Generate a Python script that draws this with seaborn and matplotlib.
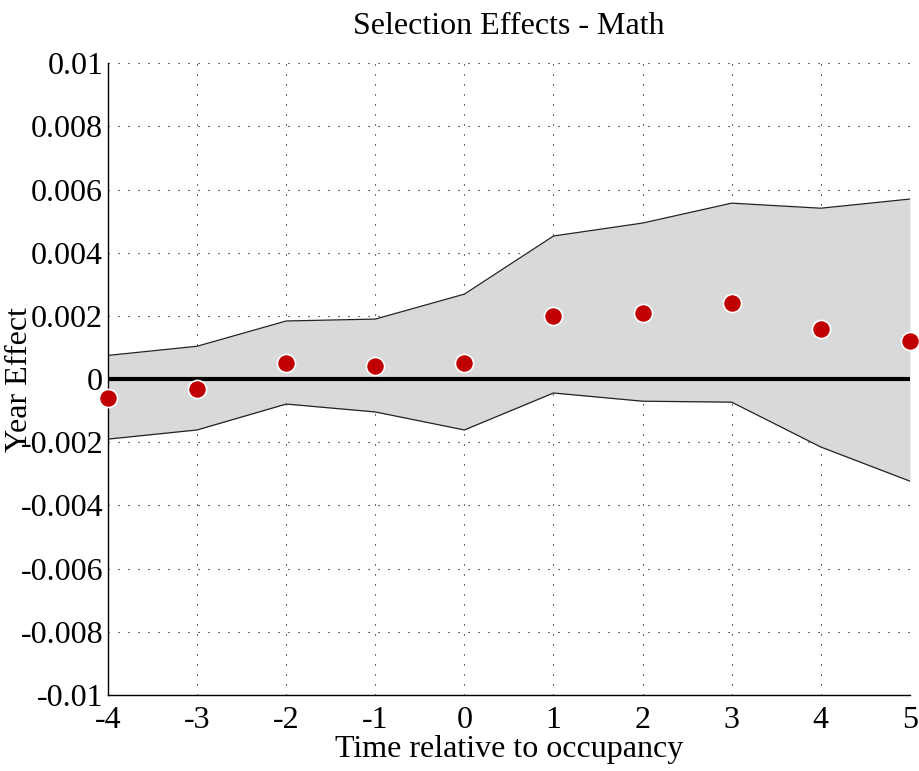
import numpy as np
import pandas as pd
import matplotlib
matplotlib.use("Agg")
import matplotlib.pyplot as plt
from matplotlib.ticker import MultipleLocator
import seaborn as sns

# Values
time_rel = [-4, -3, -2, -1, 0, 1, 2, 3, 4, 5]
year_effect = [-0.0006, -0.0003, 0.0005, 0.0004, 0.0005, 0.0020, 0.0021, 0.0024, 0.0016, 0.0012]
upper_ci = [0.00075, 0.00104, 0.00184, 0.0019, 0.00269, 0.00453, 0.00494, 0.00557, 0.00541, 0.0057]
lower_ci = [-0.0019, -0.00161, -0.00079, -0.00104, -0.00161, -0.00044, -0.0007, -0.00073, -0.00215, -0.00323]
y_ticks = [-0.01, -0.008, -0.006, -0.004, -0.002, 0, 0.002, 0.004, 0.006, 0.008, 0.01]
y_tick_labels = ["-0.01", "-0.008", "-0.006", "-0.004", "-0.002", "0",
                 "0.002", "0.004", "0.006", "0.008", "0.01"]

df = pd.DataFrame({"t": time_rel, "effect": year_effect, "hi": upper_ci, "lo": lower_ci})

sns.set_style("white")
plt.rcParams["font.family"] = ["Liberation Serif", "DejaVu Serif"]
plt.rcParams["text.color"] = "black"
plt.rcParams["axes.labelcolor"] = "black"
plt.rcParams["xtick.color"] = "black"
plt.rcParams["ytick.color"] = "black"
plt.rcParams["xtick.direction"] = "in"
plt.rcParams["ytick.direction"] = "in"

fig = plt.figure(figsize=(9.2, 7.71), dpi=100)
ax = fig.add_axes([0.1174, 0.0986, 0.8716, 0.8194])

# confidence band
ax.fill_between(df["t"], df["lo"], df["hi"], color="#d9d9d9", lw=0, zorder=1)
sns.lineplot(data=df, x="t", y="hi", color="#222222", lw=0.9, ax=ax, zorder=2)
sns.lineplot(data=df, x="t", y="lo", color="#222222", lw=0.9, ax=ax, zorder=2)

# zero line
ax.axhline(0, color="black", lw=3, zorder=3)

# point estimates
sns.scatterplot(data=df, x="t", y="effect", color="#c00000", edgecolor="white",
                linewidth=1.2, s=170, ax=ax, zorder=5, clip_on=False)

ax.set_xlim(-4, 5)
ax.set_ylim(-0.01, 0.01)
ax.set_xticks(time_rel)
ax.set_xticklabels([str(t) for t in time_rel])
ax.set_yticks(y_ticks)
ax.set_yticklabels(y_tick_labels)
ax.xaxis.set_minor_locator(MultipleLocator(0.125))
ax.tick_params(axis="both", which="major", labelsize=23, length=6, width=0.8)
ax.tick_params(axis="x", which="minor", length=3, width=0.6)
ax.tick_params(axis="x", pad=8)

ax.grid(True, which="major", color="black", linestyle=(0, (1, 8)), lw=0.8, zorder=0)
ax.set_axisbelow(True)

for side in ["top", "right"]:
    ax.spines[side].set_visible(False)
for side in ["left", "bottom"]:
    ax.spines[side].set_color("black")
    ax.spines[side].set_linewidth(1.0)

ax.set_title("Selection Effects - Math", fontsize=23, pad=21)
ax.set_xlabel("Time relative to occupancy", fontsize=23, labelpad=0)
ax.set_ylabel("Year Effect", fontsize=23)
ax.yaxis.set_label_coords(-0.092, 0.5)

fig.savefig("out.png", dpi=100)
